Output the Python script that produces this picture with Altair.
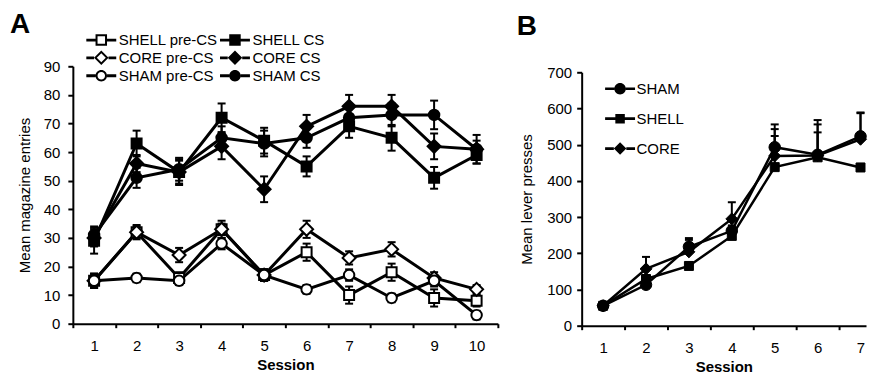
import altair as alt
import pandas as pd

FONT = "Liberation Sans"

# ---------------- Panel A data ----------------
sessions_a = [1, 2, 3, 4, 5, 6, 7, 8, 9, 10]
series_a = ["SHELL pre-CS", "CORE pre-CS", "SHAM pre-CS", "SHELL CS", "CORE CS", "SHAM CS"]
shell_pre = [15, 32, 16, 33, 17, 25, 10, 18, 9, 8]
shell_pre_sem = [2.5, 2, 2, 2, 2, 3, 3, 3, 3, 2]
core_pre = [15, 32, 24, 33, 17, 33, 23, 26, 16, 12]
core_pre_sem = [2, 2.5, 2.5, 3, 2, 3, 2.3, 2.5, 2, 1.5]
sham_pre = [15, 16, 15, 28, 17, 12, 17, 9, 15, 3]
sham_pre_sem = [2.5, 1.5, 1.5, 2, 2, 1.5, 2, 1.5, 2, 1.5]
shell_cs = [29, 63, 53, 72, 64, 55, 69, 65, 51, 59]
shell_cs_sem = [4.5, 4.5, 4.5, 5, 4.5, 3.5, 4, 4.5, 3.8, 3]
core_cs = [30, 56, 53, 62, 47, 69, 76, 76, 62, 61]
core_cs_sem = [3, 3, 4, 4.5, 4.5, 4, 4, 4, 4.5, 5]
sham_cs = [31, 51, 54, 65, 63, 65, 72, 73, 73, 61]
sham_cs_sem = [3, 3.5, 4, 4, 4.5, 3.5, 4, 4, 5, 3]

# ---------------- Panel B data ----------------
sessions_b = [1, 2, 3, 4, 5, 6, 7]
series_b = ["SHAM", "SHELL", "CORE"]
sham_lp = [55, 113, 218, 262, 493, 472, 523]
sham_lp_sem = [5, 10, 24, 15, 63, 96, 66]
shell_lp = [55, 129, 165, 248, 438, 465, 437]
shell_lp_sem = [5, 8, 10, 10, 86, 69, 10]
core_lp = [55, 157, 204, 295, 469, 470, 515]
core_lp_sem = [5, 33, 33, 46, 74, 86, 72]

means_a = {"SHELL pre-CS": shell_pre, "SHELL CS": shell_cs, "CORE pre-CS": core_pre,
           "CORE CS": core_cs, "SHAM pre-CS": sham_pre, "SHAM CS": sham_cs}
sems_a = {"SHELL pre-CS": shell_pre_sem, "SHELL CS": shell_cs_sem, "CORE pre-CS": core_pre_sem,
          "CORE CS": core_cs_sem, "SHAM pre-CS": sham_pre_sem, "SHAM CS": sham_cs_sem}
means_b = {"SHAM": sham_lp, "SHELL": shell_lp, "CORE": core_lp}
sems_b = {"SHAM": sham_lp_sem, "SHELL": shell_lp_sem, "CORE": core_lp_sem}


def long_table(sessions, order, means, sems):
    rows = []
    for s in order:
        for i, sess in enumerate(sessions):
            rows.append({"session": sess, "series": s, "mean": means[s][i], "sem": sems[s][i]})
    return pd.DataFrame(rows)


df_a = long_table(sessions_a, series_a, means_a, sems_a)
df_b = long_table(sessions_b, series_b, means_b, sems_b)

# plot markers (unit box, scaled by sqrt(size)/2)
SQ_A = "M-1,-1H1V1H-1Z"
DI_A = "M0,-1.3L1.3,0L0,1.3L-1.3,0Z"
CI_A = "M1.05,0A1.05,1.05,0,1,1,-1.05,0A1.05,1.05,0,1,1,1.05,0Z"
SQ_B = "M-0.9,-0.9H0.9V0.9H-0.9Z"
DI_B = "M0,-1.2L1.2,0L0,1.2L-1.2,0Z"
CI_B = "M1.15,0A1.15,1.15,0,1,1,-1.15,0A1.15,1.15,0,1,1,1.15,0Z"


# legend glyphs: filled geometry only (line segment + marker, open ones as rings)
def seg(edge, h):
    return f"M-3,{-h}H{-edge}V{h}H-3ZM{edge},{-h}H3V{h}H{edge}Z"


def sq(r, ccw=False):
    return f"M{-r},{-r}V{r}H{r}V{-r}Z" if ccw else f"M{-r},{-r}H{r}V{r}H{-r}Z"


def di(r, ccw=False):
    return f"M0,{-r}L{-r},0L0,{r}L{r},0Z" if ccw else f"M0,{-r}L{r},0L0,{r}L{-r},0Z"


def ci(r, ccw=False):
    f = 0 if ccw else 1
    return f"M{r},0A{r},{r},0,1,{f},{-r},0A{r},{r},0,1,{f},{r},0Z"


H_A = 0.28
leg_shapes_a = [
    seg(1.15, H_A) + sq(1.15) + sq(0.75, True),
    seg(1.45, H_A) + di(1.45) + di(0.9, True),
    seg(1.15, H_A) + ci(1.15) + ci(0.75, True),
    seg(1.15, H_A) + sq(1.15),
    seg(1.45, H_A) + di(1.45),
    seg(1.15, H_A) + ci(1.15),
]
H_B = 0.26
leg_shapes_b = [
    seg(1.15, H_B) + ci(1.15),
    seg(0.95, H_B) + sq(0.95),
    seg(1.25, H_B) + di(1.25),
]

shapes_a = [SQ_A, DI_A, CI_A, SQ_A, DI_A, CI_A]
fills_a = ["white", "white", "white", "black", "black", "black"]
shapes_b = [CI_B, SQ_B, DI_B]
fills_b = ["black", "black", "black"]

tick_cond = {"condition": {"test": "datum.value % 1 == 0", "value": 0}, "value": 1}
label_expr = "datum.value % 1 == 0 ? format(datum.value, 'd') : ''"


def x_enc(domain, values):
    return alt.X("session:Q", title="Session",
                 scale=alt.Scale(domain=domain, nice=False, zero=False),
                 axis=alt.Axis(values=values, labelExpr=label_expr, tickOpacity=tick_cond,
                               labelFlush=False, labelOverlap=False))


def y_enc(field, title, domain, values, tpad, lpad, rng=None):
    if rng is not None:
        sc = alt.Scale(domain=domain, nice=False, zero=True, range=rng)
    else:
        sc = alt.Scale(domain=domain, nice=False, zero=True)
    return alt.Y(field, title=title, scale=sc,
                 axis=alt.Axis(values=values, titlePadding=tpad, labelPadding=lpad))


def panel(df, order, shapes, leg_shapes, fills, xdom, xvals, ytitle, ydom, yvals, tpad, lpad,
          legend_props, line_w, pt_w, title_props, both_bars, yrange=None):
    base = alt.Chart(df).transform_calculate(
        lo="datum.mean - datum.sem", hi="datum.mean + datum.sem")
    X = x_enc(xdom, xvals)

    def Y(field):
        return y_enc(field, ytitle, ydom, yvals, tpad, lpad, yrange)

    lo_field = "lo:Q" if both_bars else "mean:Q"
    rule = base.mark_rule(color="black", strokeWidth=2).encode(x=X, y=Y(lo_field), y2="hi:Q")
    cap_hi = base.mark_tick(orient="horizontal", color="black", thickness=2, size=8,
                            opacity=1).encode(x=X, y=Y("hi:Q"))
    layers = [rule, cap_hi]
    if both_bars:
        cap_lo = base.mark_tick(orient="horizontal", color="black", thickness=2, size=8,
                                opacity=1).encode(x=X, y=Y("lo:Q"))
        layers.append(cap_lo)
    line = base.mark_line(color="black", strokeWidth=line_w).encode(
        x=X, y=Y("mean:Q"), detail=alt.Detail("series:N"))
    pts = base.mark_point(filled=True, opacity=1, stroke="black", strokeWidth=pt_w,
                          size=100).encode(
        x=X, y=Y("mean:Q"),
        shape=alt.Shape("series:N", scale=alt.Scale(domain=order, range=shapes), legend=None),
        fill=alt.Fill("series:N", scale=alt.Scale(domain=order, range=fills), legend=None))
    legend_layer = base.transform_filter("false").mark_point(
        filled=True, opacity=1, color="black", strokeWidth=0, size=100).encode(
        x=X, y=Y("mean:Q"),
        shape=alt.Shape("series:N", scale=alt.Scale(domain=order, range=leg_shapes),
                        legend=alt.Legend(**legend_props), title=None))
    layers += [line, pts, legend_layer]
    return alt.layer(*layers).resolve_scale(shape="independent", fill="independent").properties(
        title=alt.TitleParams(**title_props))


common_leg = dict(title=None, orient="none", symbolSize=100, labelFont=FONT, labelFontSize=15,
                  labelColor="black", symbolFillColor="black", symbolStrokeWidth=0,
                  symbolOpacity=1, padding=0)

leg_a = dict(common_leg, legendX=21, legendY=-34, columns=2, columnPadding=1,
             rowPadding=2, labelOffset=10)
leg_b = dict(common_leg, legendX=31, legendY=15, columns=1, rowPadding=14, labelOffset=9)

title_common = dict(anchor="start", frame="group", fontSize=28, fontWeight="bold", font=FONT,
                    color="black", baseline="alphabetic", offset=0)

chart_a = panel(df_a, series_a, shapes_a, leg_shapes_a, fills_a, [0.5, 10.5],
                [x / 2 for x in range(1, 22)], "Mean magazine entries", [0, 90],
                list(range(0, 91, 10)), 11, 8, leg_a, 3, 2,
                dict(title_common, text="A", dx=-63, dy=29), True).properties(width=426, height=258)

chart_b = panel(df_b, series_b, shapes_b, leg_shapes_b, fills_b, [0.5, 7.128],
                [x / 2 for x in range(1, 15)], "Mean lever presses", [0, 700],
                list(range(0, 701, 100)), 12, 5, leg_b, 2.5, 1,
                dict(title_common, text="B", dx=-65, dy=-2), False,
                yrange=[260, 6]).properties(width=285, height=260)

chart = alt.hconcat(chart_a, chart_b, spacing=84, bounds="flush").properties(
    padding={"left": 2, "top": 3, "right": 0, "bottom": 0}
).configure_view(stroke=None).configure_axis(
    domainColor="black", domainWidth=2, tickColor="black", tickWidth=2,
    labelFont=FONT, labelFontSize=15, labelColor="black",
    titleFont=FONT, titleFontSize=15, titleColor="black", grid=False
).configure_axisX(
    tickSize=4, labelPadding=11, titleFontWeight="bold", titlePadding=4
).configure_axisY(
    tickSize=5, titleFontWeight="normal"
)

chart.save("out.html", embed_options={"renderer": "svg", "actions": False})
